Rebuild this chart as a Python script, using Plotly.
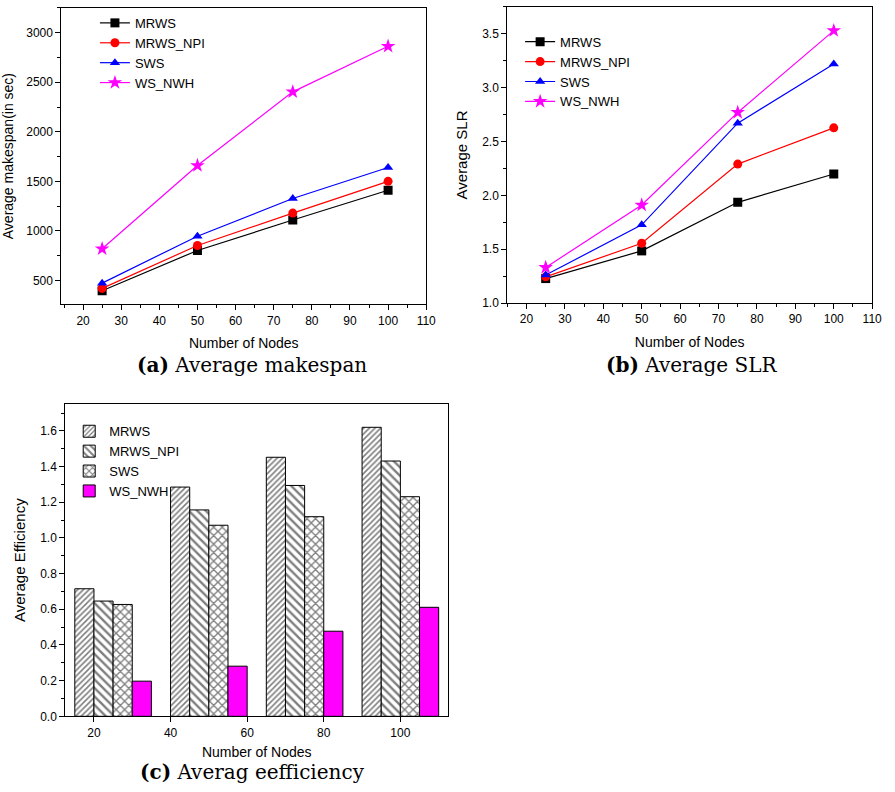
import plotly.graph_objects as go

nodes = [25, 50, 75, 100]
series = ["MRWS", "MRWS_NPI", "SWS", "WS_NWH"]

makespan_mrws = [397, 803, 1110, 1410]
makespan_npi = [420, 853, 1180, 1500]
makespan_sws = [473, 947, 1327, 1640]
makespan_nwh = [820, 1660, 2403, 2863]

slr_mrws = [1.227, 1.484, 1.935, 2.198]
slr_npi = [1.243, 1.555, 2.29, 2.627]
slr_sws = [1.26, 1.726, 2.67, 3.22]
slr_nwh = [1.33, 1.91, 2.77, 3.53]

eff_mrws = [0.715, 1.285, 1.452, 1.62]
eff_npi = [0.646, 1.157, 1.294, 1.431]
eff_sws = [0.627, 1.071, 1.119, 1.231]
eff_nwh = [0.197, 0.281, 0.477, 0.611]

line_colors = ["#000000", "#FF0000", "#0000FF", "#FF00FF"]
symbols = ["square", "circle", "triangle-up", "star"]
patterns = ["/", "\\", "x", ""]

fig = go.Figure()

mk = [makespan_mrws, makespan_npi, makespan_sws, makespan_nwh]
sl = [slr_mrws, slr_npi, slr_sws, slr_nwh]
ef = [eff_mrws, eff_npi, eff_sws, eff_nwh]

for i, name in enumerate(series):
    fig.add_trace(go.Scatter(x=nodes, y=mk[i], name=name, mode="lines+markers",
                             line=dict(color=line_colors[i], width=1.2),
                             marker=dict(symbol=symbols[i], size=9 if i != 3 else 11, color=line_colors[i]),
                             xaxis="x", yaxis="y", legend="legend"))
for i, name in enumerate(series):
    fig.add_trace(go.Scatter(x=nodes, y=sl[i], name=name, mode="lines+markers",
                             line=dict(color=line_colors[i], width=1.2),
                             marker=dict(symbol=symbols[i], size=9 if i != 3 else 11, color=line_colors[i]),
                             xaxis="x2", yaxis="y2", legend="legend2"))
offsets = [-7.5, -2.5, 2.5, 7.5]
for i, name in enumerate(series):
    fig.add_trace(go.Bar(x=[n + offsets[i] for n in nodes], y=ef[i], name=name, width=5,
                         marker=dict(color="#FF00FF" if i == 3 else "white",
                                     line=dict(color="black", width=1),
                                     pattern=dict(shape=patterns[i], fgcolor="black", bgcolor="white",
                                                  size=4 if i == 0 else 6, solidity=0.4) if i < 3 else None),
                         xaxis="x3", yaxis="y3", legend="legend3"))

axfont = dict(family="Liberation Sans, Arial", size=12, color="black")
titlefont = dict(family="Liberation Sans, Arial", size=14, color="black")

common = dict(showline=True, linecolor="black", linewidth=1, mirror=True, ticks="outside",
              ticklen=5, tickcolor="black", showgrid=False, zeroline=False, tickfont=axfont)

legfont = dict(family="Liberation Sans, Arial", size=13, color="black")

fig.update_layout(
    width=895, height=792, margin=dict(l=0, r=0, t=0, b=0),
    paper_bgcolor="white", plot_bgcolor="white", barmode="overlay",
    xaxis=dict(domain=[0.0693, 0.4816], anchor="y", range=[14.3, 110], dtick=10,
               minor=dict(ticks="outside", ticklen=3, dtick=5, tickcolor="black"),
               title=dict(text="Number of Nodes", font=titlefont, standoff=11), **common),
    yaxis=dict(domain=[0.6124, 0.9899], anchor="x", range=[260, 3250], tick0=500, dtick=500,
               minor=dict(ticks="outside", ticklen=3, dtick=250, tick0=0, tickcolor="black"),
               title=dict(text="Average makespan(in sec)", font=titlefont, standoff=10), **common),
    xaxis2=dict(domain=[0.5732, 0.9855], anchor="y2", range=[15, 110], dtick=10,
                minor=dict(ticks="outside", ticklen=3, dtick=5, tickcolor="black"),
                title=dict(text="Number of Nodes", font=titlefont, standoff=11), **common),
    yaxis2=dict(domain=[0.614, 0.9912], anchor="x2", range=[1.0, 3.75], dtick=0.5, tickformat=".1f",
                minor=dict(ticks="outside", ticklen=3, dtick=0.25, tickcolor="black"),
                title=dict(text="Average SLR", font=dict(family="Liberation Sans, Arial", size=15, color="black"),
                           standoff=10), **common),
    xaxis3=dict(domain=[0.0737, 0.5065], anchor="y3", range=[12.5, 112.5], tickvals=[20, 40, 60, 80, 100],
                title=dict(text="Number of Nodes", font=titlefont, standoff=8), **common),
    yaxis3=dict(domain=[0.0875, 0.4852], anchor="x3", range=[0, 1.75], dtick=0.2, tickformat=".1f",
                minor=dict(ticks="outside", ticklen=3, dtick=0.1, tickcolor="black"),
                title=dict(text="Average Efficiency", font=dict(family="Liberation Sans, Arial", size=15, color="black"),
                           standoff=10), **common),
    legend=dict(x=96 / 895, y=1 - 8 / 792, xanchor="left", yanchor="top", bgcolor="rgba(0,0,0,0)",
                font=legfont, tracegroupgap=0),
    legend2=dict(x=526 / 895, y=1 - 27 / 792, xanchor="left", yanchor="top", bgcolor="rgba(0,0,0,0)",
                 font=legfont, tracegroupgap=0),
    legend3=dict(x=70 / 895, y=1 - 420 / 792, xanchor="left", yanchor="top", bgcolor="rgba(0,0,0,0)",
                 font=legfont, tracegroupgap=0),
    showlegend=True,
)

capfont = dict(family="DejaVu Serif", size=20, color="black")
fig.add_annotation(text="<b>(a)</b> Average makespan", x=255 / 895, y=1 - 368 / 792, xref="paper", yref="paper",
                   showarrow=False, font=capfont, xanchor="center", yanchor="middle")
fig.add_annotation(text="<b>(b)</b> Average SLR", x=700 / 895, y=1 - 368 / 792, xref="paper", yref="paper",
                   showarrow=False, font=capfont, xanchor="center", yanchor="middle")
fig.add_annotation(text="<b>(c)</b> Averag eefficiency", x=255 / 895, y=1 - 779 / 792, xref="paper", yref="paper",
                   showarrow=False, font=capfont, xanchor="center", yanchor="middle")

fig.write_html("out.html")
